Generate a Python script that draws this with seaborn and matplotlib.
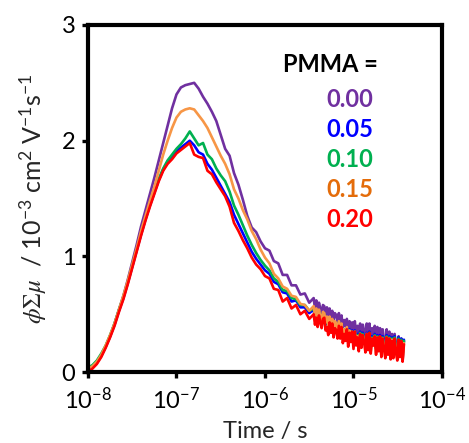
import numpy as np
import pandas as pd
import matplotlib
matplotlib.use("Agg")
import matplotlib.pyplot as plt
import seaborn as sns

# ---------------- data ----------------
log_time_main = [-8.0, -7.95, -7.9, -7.85, -7.8, -7.75, -7.7, -7.65, -7.6, -7.55, -7.5,
                 -7.45, -7.4, -7.35, -7.3, -7.25, -7.2, -7.15, -7.1, -7.05, -7.0,
                 -6.95, -6.9, -6.85, -6.8, -6.75, -6.7, -6.65, -6.6, -6.55, -6.5,
                 -6.45, -6.4, -6.35, -6.3, -6.25, -6.2, -6.15, -6.1, -6.05, -6.0,
                 -5.95, -5.9, -5.85, -5.8, -5.75, -5.7, -5.65, -5.6, -5.55, -5.5]
log_time_tail = [-5.450, -5.435, -5.420, -5.405, -5.390, -5.375, -5.360, -5.345, -5.330, -5.315,
                 -5.300, -5.285, -5.270, -5.255, -5.240, -5.225, -5.210, -5.195, -5.180, -5.165,
                 -5.150, -5.135, -5.120, -5.105, -5.090, -5.075, -5.060, -5.045, -5.030, -5.015,
                 -5.000, -4.985, -4.970, -4.955, -4.940, -4.925, -4.910, -4.895, -4.880, -4.865,
                 -4.850, -4.835, -4.820, -4.805, -4.790, -4.775, -4.760, -4.745, -4.730, -4.715,
                 -4.700, -4.685, -4.670, -4.655, -4.640, -4.625, -4.610, -4.595, -4.580, -4.565,
                 -4.550, -4.535, -4.520, -4.505, -4.490, -4.475, -4.460, -4.445, -4.430]

pmma_labels = ["0.00", "0.05", "0.10", "0.15", "0.20"]

signal_000 = [0.01, 0.04, 0.08, 0.14, 0.22, 0.31, 0.42, 0.54, 0.66, 0.80, 0.95,
              1.10, 1.26, 1.40, 1.54, 1.68, 1.83, 1.98, 2.13, 2.28, 2.40,
              2.46, 2.48, 2.49, 2.50, 2.45, 2.38, 2.32, 2.25, 2.17, 2.05,
              1.93, 1.87, 1.72, 1.62, 1.49, 1.35, 1.25, 1.21, 1.13, 1.07,
              1.05, 0.96, 0.94, 0.84, 0.84, 0.75, 0.75, 0.67, 0.68, 0.60,
              0.64, 0.55, 0.62, 0.53, 0.60, 0.55, 0.51, 0.58, 0.57, 0.49,
              0.56, 0.48, 0.55, 0.47, 0.53, 0.45, 0.51, 0.49, 0.43, 0.51,
              0.41, 0.49, 0.38, 0.45, 0.40, 0.46, 0.35, 0.44, 0.36, 0.43,
              0.31, 0.44, 0.33, 0.40, 0.29, 0.42, 0.31, 0.41, 0.36, 0.28,
              0.42, 0.27, 0.42, 0.25, 0.38, 0.31, 0.40, 0.24, 0.39, 0.25,
              0.38, 0.19, 0.37, 0.28, 0.18, 0.37, 0.21, 0.35, 0.16, 0.33,
              0.16, 0.33, 0.21, 0.13, 0.31, 0.16, 0.29, 0.10, 0.27]
signal_005 = [0.02, 0.04, 0.08, 0.14, 0.22, 0.31, 0.41, 0.53, 0.64, 0.77, 0.91,
              1.05, 1.19, 1.32, 1.44, 1.55, 1.66, 1.75, 1.82, 1.86, 1.91,
              1.94, 1.97, 2.00, 1.96, 1.90, 1.88, 1.80, 1.75, 1.68, 1.61,
              1.54, 1.47, 1.36, 1.28, 1.20, 1.12, 1.04, 0.98, 0.93, 0.88,
              0.85, 0.78, 0.76, 0.69, 0.68, 0.61, 0.62, 0.56, 0.56, 0.51,
              0.54, 0.47, 0.52, 0.45, 0.50, 0.46, 0.44, 0.50, 0.49, 0.42,
              0.45, 0.38, 0.46, 0.40, 0.44, 0.36, 0.42, 0.40, 0.35, 0.42,
              0.34, 0.41, 0.31, 0.37, 0.32, 0.39, 0.29, 0.37, 0.30, 0.36,
              0.26, 0.36, 0.27, 0.33, 0.25, 0.35, 0.26, 0.34, 0.30, 0.23,
              0.34, 0.24, 0.35, 0.22, 0.31, 0.27, 0.33, 0.21, 0.32, 0.23,
              0.32, 0.19, 0.31, 0.25, 0.18, 0.32, 0.20, 0.31, 0.18, 0.30,
              0.18, 0.31, 0.22, 0.17, 0.30, 0.19, 0.29, 0.16, 0.28]
signal_010 = [0.04, 0.06, 0.10, 0.16, 0.23, 0.32, 0.42, 0.54, 0.65, 0.78, 0.92,
              1.06, 1.20, 1.33, 1.45, 1.56, 1.67, 1.76, 1.83, 1.88, 1.93,
              1.97, 2.02, 2.08, 2.02, 1.96, 1.98, 1.88, 1.84, 1.76, 1.70,
              1.65, 1.56, 1.44, 1.36, 1.27, 1.18, 1.10, 1.03, 0.97, 0.92,
              0.88, 0.81, 0.78, 0.71, 0.70, 0.64, 0.63, 0.58, 0.58, 0.53,
              0.55, 0.49, 0.54, 0.46, 0.52, 0.48, 0.45, 0.51, 0.50, 0.43,
              0.47, 0.40, 0.47, 0.41, 0.45, 0.37, 0.43, 0.41, 0.36, 0.43,
              0.35, 0.41, 0.31, 0.37, 0.33, 0.38, 0.29, 0.36, 0.30, 0.35,
              0.26, 0.35, 0.27, 0.32, 0.24, 0.34, 0.26, 0.33, 0.29, 0.22,
              0.33, 0.23, 0.34, 0.21, 0.30, 0.26, 0.32, 0.20, 0.31, 0.22,
              0.31, 0.18, 0.30, 0.24, 0.17, 0.31, 0.19, 0.30, 0.17, 0.29,
              0.17, 0.30, 0.21, 0.16, 0.29, 0.18, 0.28, 0.15, 0.27]
signal_015 = [0.03, 0.05, 0.09, 0.15, 0.23, 0.32, 0.42, 0.54, 0.66, 0.79, 0.93,
              1.07, 1.22, 1.35, 1.48, 1.60, 1.74, 1.88, 2.00, 2.11, 2.20,
              2.25, 2.27, 2.28, 2.27, 2.22, 2.17, 2.11, 2.03, 1.95, 1.87,
              1.80, 1.71, 1.58, 1.50, 1.40, 1.32, 1.22, 1.15, 1.06, 0.99,
              0.94, 0.85, 0.81, 0.74, 0.72, 0.66, 0.65, 0.59, 0.58, 0.53,
              0.57, 0.49, 0.55, 0.47, 0.54, 0.48, 0.45, 0.52, 0.51, 0.43,
              0.48, 0.40, 0.48, 0.41, 0.46, 0.37, 0.44, 0.42, 0.35, 0.44,
              0.35, 0.42, 0.30, 0.37, 0.32, 0.39, 0.27, 0.36, 0.29, 0.35,
              0.23, 0.35, 0.25, 0.31, 0.21, 0.33, 0.24, 0.32, 0.27, 0.19,
              0.33, 0.20, 0.33, 0.18, 0.29, 0.23, 0.31, 0.17, 0.30, 0.19,
              0.30, 0.14, 0.29, 0.21, 0.13, 0.30, 0.16, 0.29, 0.13, 0.28,
              0.13, 0.28, 0.18, 0.12, 0.27, 0.14, 0.26, 0.11, 0.25]
signal_020 = [0.00, 0.03, 0.07, 0.13, 0.21, 0.30, 0.40, 0.52, 0.63, 0.76, 0.90,
              1.04, 1.18, 1.31, 1.43, 1.54, 1.65, 1.74, 1.80, 1.84, 1.89,
              1.92, 1.95, 1.98, 1.88, 1.86, 1.85, 1.74, 1.71, 1.64, 1.58,
              1.52, 1.43, 1.29, 1.22, 1.14, 1.07, 0.99, 0.93, 0.89, 0.83,
              0.81, 0.72, 0.71, 0.61, 0.64, 0.55, 0.58, 0.50, 0.53, 0.46,
              0.50, 0.41, 0.47, 0.39, 0.49, 0.43, 0.38, 0.46, 0.47, 0.36,
              0.39, 0.32, 0.43, 0.34, 0.42, 0.30, 0.38, 0.36, 0.29, 0.40,
              0.29, 0.39, 0.25, 0.33, 0.27, 0.37, 0.22, 0.34, 0.26, 0.35,
              0.20, 0.35, 0.23, 0.30, 0.18, 0.33, 0.21, 0.32, 0.26, 0.17,
              0.33, 0.19, 0.34, 0.16, 0.29, 0.23, 0.31, 0.15, 0.30, 0.18,
              0.31, 0.13, 0.29, 0.20, 0.12, 0.30, 0.15, 0.29, 0.11, 0.27,
              0.12, 0.29, 0.17, 0.10, 0.28, 0.13, 0.27, 0.09, 0.24]

x_tick_exponents = [-8, -7, -6, -5, -4]
y_ticks = [0, 1, 2, 3]

line_colors = ["#7030A0", "#0000FF", "#00B050", "#F79646", "#FF0000"]
text_colors = ["#7030A0", "#0000FF", "#00B050", "#E46C0A", "#FF0000"]

# ---------------- build table ----------------
log_time = log_time_main + log_time_tail
time_s = 10.0 ** np.array(log_time)
series = [signal_000, signal_005, signal_010, signal_015, signal_020]
frames = []
for lab, vals in zip(pmma_labels, series):
    frames.append(pd.DataFrame({"time": time_s, "signal": vals, "PMMA": lab}))
df = pd.concat(frames, ignore_index=True)

# ---------------- plot ----------------
sns.set_style("white")
plt.rcParams["font.family"] = ["Lato", "DejaVu Sans"]
plt.rcParams["mathtext.fontset"] = "stix"

fig = plt.figure(figsize=(4.69, 4.43), dpi=100)
ax = fig.add_axes([0.1876, 0.160, 0.7548, 0.7836])

sns.lineplot(data=df, x="time", y="signal", hue="PMMA", hue_order=pmma_labels,
             palette=dict(zip(pmma_labels, line_colors)), linewidth=1.9,
             legend=False, ax=ax, estimator=None, sort=False)

ax.set_xscale("log")
ax.set_xlim(1e-8, 1e-4)
ax.set_ylim(0, 3)
ax.set_xticks([10.0 ** e for e in x_tick_exponents])
ax.set_xticklabels([r"$\mathregular{10^{%d}}$" % e for e in x_tick_exponents])
ax.xaxis.set_minor_locator(matplotlib.ticker.NullLocator())
ax.set_yticks(y_ticks)
ax.set_yticklabels([str(v) for v in y_ticks])

for sp in ax.spines.values():
    sp.set_visible(True)
    sp.set_color("black")
    sp.set_linewidth(3.0)

ax.tick_params(axis="both", which="major", direction="out", length=4, width=2.4,
               labelsize=17, color="black", labelcolor="black",
               bottom=True, left=True, top=False, right=False)
ax.tick_params(axis="x", pad=6)
ax.tick_params(axis="y", pad=5)

ax.set_xlabel("Time / s", fontsize=17, labelpad=6)
ax.set_ylabel(r"$\phi\Sigma\mu$  / $\mathregular{10^{-3}\ cm^{2}\ V^{-1}s^{-1}}$",
              fontsize=18, labelpad=9)

ax.text(0.819, 0.865, "PMMA =", transform=ax.transAxes, ha="right", va="baseline",
        fontsize=17, fontweight="bold", color="black")
for i, (lab, c) in enumerate(zip(pmma_labels, text_colors)):
    ax.text(0.806, 0.764 - i * 0.0865, lab, transform=ax.transAxes, ha="right",
            va="baseline", fontsize=17, fontweight="bold", color=c)

fig.savefig("out.png", dpi=100)
